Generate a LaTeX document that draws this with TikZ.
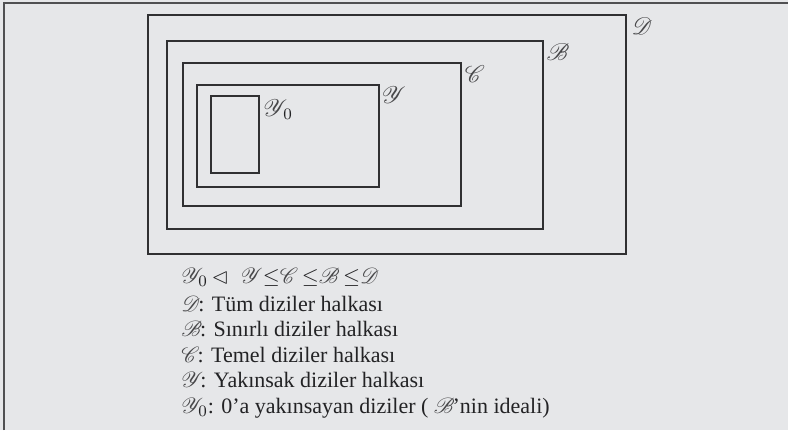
\documentclass[tikz,border=0pt]{standalone}
\usepackage{amsmath,amssymb}
\usepackage{mathrsfs}
\usepackage{fontspec}
\setmainfont{Liberation Serif}
\usetikzlibrary{positioning}
\definecolor{PageGray}{RGB}{230,231,233}
\definecolor{FrameGray}{RGB}{80,80,82}
\definecolor{BoxDark}{RGB}{48,48,50}
\definecolor{ScriptGray}{RGB}{72,72,74}
\definecolor{TextDark}{RGB}{35,35,37}
\newcommand{\scrl}[1]{{\color{ScriptGray}\mathscr{#1}}}
\newcommand{\yzero}{\scrl{Y}\kern-2.5pt_0}
\tikzset{
  setbox/.style={draw=BoxDark,line width=0.65pt},
  setlabel/.style={inner sep=0pt,font=\fontsize{12}{14}\selectfont,text=ScriptGray},
  legendline/.style={anchor=base west,inner sep=0pt,font=\fontsize{11}{13}\selectfont,text=TextDark},
  pageframe/.style={draw=FrameGray,line width=0.8pt}
}

\begin{document}
\begin{tikzpicture}[x=0.5pt,y=-0.5pt]
\fill[PageGray] (0,0) rectangle (788,430);
\useasboundingbox (0,0) rectangle (788,430);
\draw[pageframe] (4,430) -- (4,3) -- (788,3);

% nested sets
\draw[setbox] (148,15) rectangle (626,254);
\draw[setbox] (167,41) rectangle (543,229);
\draw[setbox] (183,63) rectangle (461,206);
\draw[setbox] (197,85) rectangle (379,187);
\draw[setbox] (211,96) rectangle (259,173);

\node[setlabel] (lblD) at (642,26) {$\mathscr{D}$};
\node[setlabel] (lblB) at (558,52) {$\mathscr{B}$};
\node[setlabel] (lblC) at (475,74) {$\mathscr{C}$};
\node[setlabel] (lblY) at (394,95) {$\mathscr{Y}$};
\node[setlabel,anchor=base west] (lblYzero) at (263,116) {$\mathscr{Y}\kern-2pt_{\textcolor{TextDark}{0}}$};

% legend
\node[legendline] (relation) at (181,283) {$\yzero\,{\lhd}\;\;\scrl{Y}{\leq}\scrl{C}\,{\leq}\scrl{B}\,{\leq}\scrl{D}$};
\node[legendline] (defD) at (181,311) {$\scrl{D}$\kern-1pt: Tüm diziler halkası};
\node[legendline] (defB) at (181,336) {$\scrl{B}$\kern-1pt: Sınırlı diziler halkası};
\node[legendline] (defC) at (181,362) {$\scrl{C}$\kern-1pt: Temel diziler halkası};
\node[legendline] (defY) at (181,387) {$\scrl{Y}$\kern-1.5pt: Yakınsak diziler halkası};
\node[legendline] (defYzero) at (181,413) {$\yzero$: 0’a yakınsayan diziler ( $\scrl{B}$\kern-1pt’nin ideali)};
\end{tikzpicture}
\end{document}
